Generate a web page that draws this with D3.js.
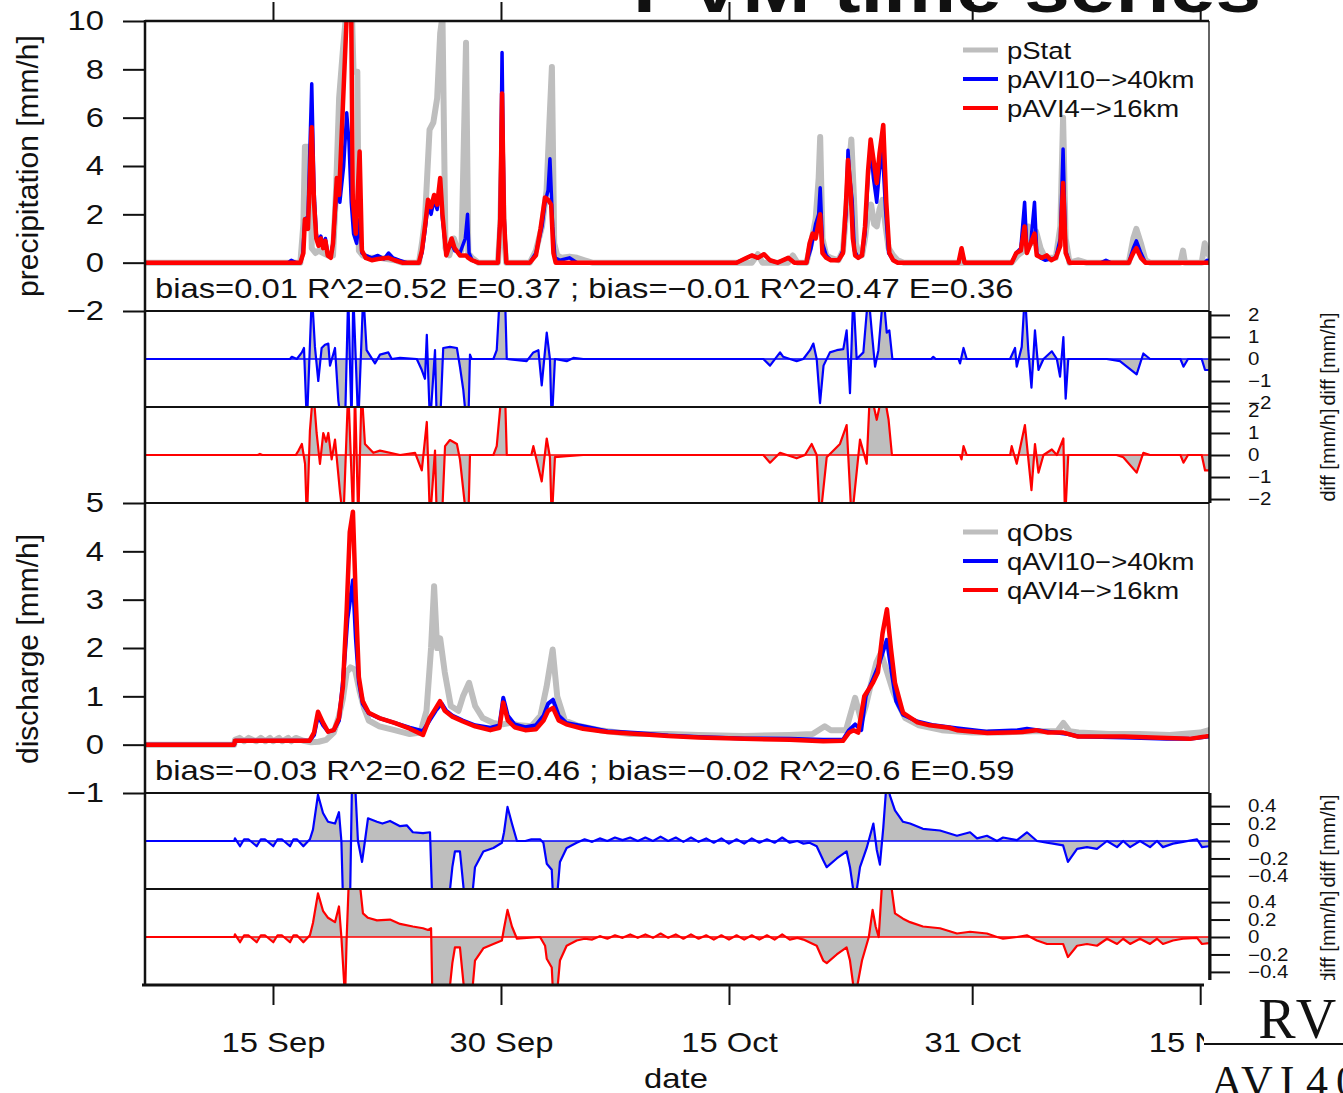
<!DOCTYPE html>
<html>
<head>
<meta charset="utf-8">
<script src="https://cdn.jsdelivr.net/npm/d3@7"></script>
<style>
  body { margin: 0; background: #fff; }
  svg { display: block; }
  text { fill: #111; }
</style>
</head>
<body>
<div id="chart-area"></div>
<script>

// ---- data: time is in days since 1 Sep (fractional), values in mm/h ----

const dateTicks = ["2011-09-15", "2011-09-30", "2011-10-15", "2011-10-31", "2011-11-15"];
const dayRange = [5.58, 75.58];

const pTicks = [-2, 0, 2, 4, 6, 8, 10];
const qTicks = [-1, 0, 1, 2, 3, 4, 5];
const pDiffTicks = [-2, -1, 0, 1, 2];
const qDiffTicks = [-0.4, -0.2, 0, 0.2, 0.4];

const pLegend = ["pStat", "pAVI10\u2212>40km", "pAVI4\u2212>16km"];
const qLegend = ["qObs", "qAVI10\u2212>40km", "qAVI4\u2212>16km"];
const pStats = "bias=0.01 R^2=0.52 E=0.37 ; bias=\u22120.01 R^2=0.47 E=0.36";
const qStats = "bias=\u22120.03 R^2=0.62 E=0.46 ; bias=\u22120.02 R^2=0.6 E=0.59";

const pStat = [[5.58,0],[15.8,0],[16.0,1.6],[16.1,4.8],[16.45,4.8],[16.55,0.6],[16.8,0.4],[17.0,0.5],[17.3,0.4],[17.6,0.3],[17.95,0.3],[18.15,3.0],[18.35,6.8],[18.6,8.8],[18.8,10.2],[19.2,10.2],[19.3,7.9],[19.55,7.9],[19.65,0.5],[19.9,0.3],[20.3,0.2],[21.0,0.2],[21.5,0.15],[22.0,0.1],[22.5,0],[23.6,0],[23.8,0.8],[24.0,1.8],[24.3,5.5],[24.55,5.8],[24.8,6.8],[25.0,9.5],[25.15,10.2],[25.35,0.6],[25.6,0.3],[25.9,1.0],[26.1,0.6],[26.4,0.5],[26.7,9.1],[26.85,0.4],[27.1,0.2],[27.5,0],[28.8,0],[28.95,1.5],[29.07,4.5],[29.2,1.0],[29.35,0],[30.9,0],[31.3,0.5],[31.7,1.5],[32.0,3.0],[32.2,6.0],[32.35,8.1],[32.5,0.8],[32.7,0.3],[33.0,0.2],[33.5,0.25],[34.0,0.2],[34.5,0.1],[35.0,0],[45.5,0],[45.9,0.35],[46.2,0],[47.9,0],[48.2,0.3],[48.5,0],[49.1,0],[49.4,0.8],[49.7,1.8],[49.9,3.5],[50.0,5.2],[50.15,1.0],[50.4,0.3],[50.7,0.2],[51.2,0.1],[51.5,0.5],[51.7,2.0],[51.9,4.0],[52.05,5.1],[52.2,3.0],[52.35,0.8],[52.55,0.3],[52.75,0.3],[52.95,1.0],[53.15,2.0],[53.35,2.4],[53.55,1.6],[53.72,1.5],[53.9,2.2],[54.1,2.6],[54.3,1.5],[54.5,0.6],[54.8,0.3],[55.1,0.1],[55.5,0],[62.6,0],[63.0,0.3],[63.4,0.5],[63.7,1.5],[63.9,0.8],[64.2,1.3],[64.5,0.6],[64.8,0.2],[65.5,0.2],[65.8,1.5],[65.98,6.0],[66.15,1.0],[66.4,0],[67.0,0.1],[67.5,0],[70.3,0],[70.6,1.0],[70.8,1.4],[71.1,0.8],[71.4,0.1],[71.7,0],[73.7,0],[73.87,0.5],[74.0,0],[75.1,0],[75.3,0.8],[75.58,0.3]];

const pAvi10 = [[5.58,0],[15.0,0],[15.2,0.1],[15.5,0],[15.8,0],[15.95,0.3],[16.1,1.8],[16.3,1.9],[16.55,7.4],[16.7,3.0],[16.85,1.2],[17.0,0.8],[17.15,1.1],[17.3,0.7],[17.45,1.0],[17.6,0.4],[17.8,0.3],[17.95,0.8],[18.2,3.0],[18.4,2.5],[18.65,4.0],[18.85,6.2],[19.0,5.0],[19.15,2.5],[19.3,1.2],[19.5,0.8],[19.7,1.8],[19.85,0.4],[20.1,0.3],[20.5,0.2],[20.9,0.3],[21.3,0.15],[21.6,0.4],[21.9,0.2],[22.3,0.1],[22.8,0],[23.6,0],[23.8,0.4],[24.0,1.3],[24.2,2.4],[24.4,2.0],[24.6,2.6],[24.8,2.2],[25.0,3.2],[25.15,1.8],[25.4,0.4],[25.75,0.8],[25.95,0.5],[26.3,0.4],[26.65,1.0],[26.8,2.0],[26.9,0.4],[27.1,0.1],[27.5,0],[28.8,0],[28.95,2.0],[29.07,8.7],[29.2,2.0],[29.35,0],[30.9,0],[31.3,0.4],[31.7,1.5],[31.9,2.5],[32.1,3.0],[32.22,4.3],[32.4,1.5],[32.55,0.2],[32.9,0.1],[33.5,0.2],[34.0,0],[44.5,0],[45.0,0.15],[45.5,0.3],[45.9,0.2],[46.3,0.35],[46.7,0.1],[47.2,0],[47.9,0.2],[48.3,0],[49.1,0],[49.4,0.6],[49.7,1.6],[49.9,2.0],[50.0,3.1],[50.15,0.8],[50.4,0.3],[50.7,0.1],[51.2,0.1],[51.5,0.5],[51.7,2.0],[51.83,4.65],[51.95,3.5],[52.1,2.6],[52.25,0.5],[52.5,0.2],[52.75,0.3],[52.95,1.2],[53.15,3.5],[53.32,4.8],[53.5,3.5],[53.72,2.5],[53.9,3.8],[54.1,4.6],[54.3,2.2],[54.5,0.4],[54.8,0.1],[55.1,0],[59.1,0],[59.3,0.5],[59.5,0],[62.6,0],[62.9,0.4],[63.2,0.6],[63.45,2.5],[63.6,0.5],[63.85,0.8],[64.1,2.5],[64.25,0.4],[64.5,0.2],[64.8,0.1],[65.5,0.2],[65.8,1.0],[65.98,4.7],[66.15,0.5],[66.4,0],[68.5,0],[68.8,0.1],[69.1,0],[70.3,0],[70.6,0.6],[70.8,0.9],[71.1,0.4],[71.4,0],[75.3,0],[75.45,0.1],[75.58,0.1]];

const pAvi4 = [[5.58,0],[15.8,0],[16.0,0.4],[16.1,1.8],[16.3,1.4],[16.55,5.6],[16.7,2.5],[16.85,1.0],[17.0,0.7],[17.15,1.0],[17.3,0.6],[17.45,0.9],[17.6,0.3],[17.8,0.2],[17.95,0.8],[18.2,3.5],[18.35,2.8],[18.6,6.5],[18.85,10.2],[19.15,10.2],[19.25,2.6],[19.45,1.2],[19.7,4.6],[19.85,0.5],[20.1,0.2],[20.5,0.1],[20.9,0.15],[21.6,0.2],[22.0,0.1],[22.5,0],[23.6,0],[23.8,0.5],[24.0,1.5],[24.2,2.6],[24.4,2.3],[24.6,2.8],[24.8,2.4],[25.0,3.5],[25.15,2.0],[25.4,0.3],[25.75,1.0],[25.95,0.6],[26.3,0.3],[26.7,0.3],[26.85,0.2],[27.1,0.1],[27.5,0],[28.8,0],[28.95,1.8],[29.07,7.0],[29.2,1.8],[29.35,0],[30.9,0],[31.3,0.3],[31.6,1.4],[31.9,2.7],[32.1,2.6],[32.3,2.4],[32.45,0.4],[32.6,0],[44.5,0],[45.0,0.15],[45.5,0.3],[45.9,0.2],[46.3,0.35],[46.7,0.1],[47.2,0],[47.9,0.2],[48.3,0],[49.1,0],[49.3,0.8],[49.5,1.2],[49.7,1.0],[49.85,1.5],[50.0,2.0],[50.15,0.4],[50.4,0.2],[50.7,0.1],[51.2,0.1],[51.5,0.4],[51.7,2.5],[51.83,4.25],[52.0,3.0],[52.15,1.0],[52.3,0.3],[52.5,0.2],[52.75,0.3],[52.95,1.5],[53.15,3.8],[53.32,5.1],[53.5,4.3],[53.72,3.3],[53.9,4.5],[54.15,5.7],[54.35,2.5],[54.55,0.4],[54.8,0.1],[55.1,0],[59.1,0],[59.3,0.6],[59.5,0],[62.6,0],[62.9,0.4],[63.2,0.5],[63.45,1.5],[63.6,0.4],[63.85,0.8],[64.1,1.2],[64.25,0.3],[64.6,0.2],[64.9,0.3],[65.2,0.1],[65.5,0.2],[65.8,0.7],[65.98,3.3],[66.15,0.4],[66.4,0],[70.3,0],[70.6,0.4],[70.8,0.6],[71.1,0.2],[71.4,0],[75.58,0]];

const pDiff10 = [[5.58,0],[15.12,0],[15.24,0.1],[15.57,0],[15.9,0.3],[16.04,0.5],[16.23,-3],[16.56,3],[16.76,0.55],[16.98,-1.0],[17.2,0.5],[17.42,0.65],[17.64,0.7],[17.75,-0.3],[18.08,0.5],[18.3,-1.9],[18.52,-3],[18.74,-3],[18.95,3],[19.17,-3],[19.28,3],[19.61,-3],[19.94,3],[20.16,0.4],[20.71,-0.2],[21.04,0.2],[21.59,0.3],[21.81,0],[22.36,0.05],[23.46,0],[23.79,-0.5],[24.0,-0.9],[24.12,1.1],[24.33,-3],[24.66,0.4],[24.78,-3],[24.99,-3],[25.2,0.5],[25.64,0.55],[26.1,0.5],[26.3,-0.35],[26.52,-1.4],[26.74,-3],[26.85,-3],[26.96,0.2],[27.07,0],[28.5,0],[28.72,0.4],[28.93,3],[29.26,3],[29.38,0],[30.69,-0.1],[31.13,0.3],[31.46,0.4],[31.68,-1.2],[32.01,1.2],[32.22,0],[32.34,-3],[32.55,0],[33.32,-0.1],[33.76,0.05],[34.41,0],[46.26,0],[46.7,-0.3],[47.36,0.3],[47.57,0.1],[48.45,-0.1],[48.89,0],[49.33,0.4],[49.55,0.7],[49.77,0],[49.99,-2.0],[50.22,-0.3],[50.64,0.3],[51.09,0.4],[51.52,0.45],[51.74,1.3],[51.96,-1.55],[52.18,3],[52.4,0],[52.84,0.3],[53.17,3],[53.4,1.2],[53.61,-0.35],[53.83,0.4],[54.15,3],[54.38,1.2],[54.55,1.3],[54.75,0],[57.3,0],[57.44,0.1],[57.6,0],[59.1,0],[59.2,-0.2],[59.43,0.5],[59.64,0],[62.49,0],[62.82,0.5],[62.93,-0.35],[63.26,0.55],[63.47,3],[63.69,0.4],[63.9,-1.3],[64.13,1.3],[64.36,-0.5],[64.69,0],[65.24,0.35],[65.57,0],[65.78,-0.8],[66.0,1.0],[66.15,-1.8],[66.32,0],[68.85,0],[69.72,-0.1],[70.82,-0.7],[71.26,0.25],[71.7,0],[73.7,0],[73.9,-0.35],[74.2,0],[75.1,0],[75.32,-0.5],[75.58,-0.5]];

const pDiff4 = [[5.58,0],[13.0,0],[13.14,0.05],[13.3,0],[15.5,0],[15.68,0.2],[15.9,0.5],[16.11,-0.4],[16.23,-3],[16.43,1.1],[16.65,3],[16.87,1.0],[17.09,-0.4],[17.31,1.0],[17.5,0.6],[17.64,1.0],[17.86,-0.2],[18.08,0.7],[18.41,-1.7],[18.63,-3],[18.95,3],[19.28,-3],[19.39,3],[19.61,-3],[19.83,3],[20.05,0.5],[20.6,0.1],[21.04,0.2],[22.36,0],[23.35,0.1],[23.79,-0.7],[24.12,1.5],[24.33,-3],[24.66,0.2],[24.78,-3],[25.11,-3],[25.32,0.4],[25.64,0.68],[26.1,0.5],[26.3,-0.2],[26.52,-1.6],[26.74,-3],[26.85,-3],[26.96,0],[28.5,0],[28.72,0.4],[29.06,3],[29.26,3],[29.38,0],[31.0,0],[31.13,0.4],[31.68,-1.2],[32.01,0.75],[32.22,-0.1],[32.34,-3],[32.55,-0.1],[33.32,-0.05],[34.41,0],[46.26,0],[46.7,-0.35],[47.36,0.1],[48.45,-0.15],[49.0,0],[49.44,0.5],[49.77,0],[49.99,-3],[50.43,-0.1],[51.3,0.5],[51.74,1.36],[52.07,-3],[52.62,0.7],[53.06,-0.4],[53.28,3],[53.72,1.6],[54.15,3],[54.5,1.6],[54.72,0],[59.2,0],[59.3,-0.2],[59.43,0.4],[59.64,0],[62.5,0],[62.6,0.4],[62.93,-0.4],[63.47,1.36],[63.9,-1.6],[64.13,0.5],[64.36,-0.8],[64.69,0],[65.24,0.25],[65.57,0],[66.0,0.75],[66.11,-3],[66.32,0],[69.5,0],[69.94,-0.1],[70.82,-0.8],[71.26,0.1],[71.7,0],[73.7,0],[73.9,-0.35],[74.2,0],[75.1,0],[75.32,-0.7],[75.58,-0.7]];

const qObs = [[5.58,0],[11.45,0],[11.5,0.1],[11.8,0.14],[12.1,0.07],[12.4,0.14],[12.9,0.07],[13.2,0.14],[13.5,0.07],[13.8,0.14],[14.0,0.07],[14.4,0.14],[14.6,0.07],[15.0,0.14],[15.2,0.07],[15.5,0.14],[16.0,0.08],[16.5,0.05],[17.0,0.06],[17.5,0.1],[18.0,0.25],[18.35,0.6],[18.6,0.95],[18.85,1.5],[19.1,1.6],[19.4,1.55],[19.7,1.1],[20.0,0.75],[20.3,0.5],[21.0,0.38],[22.0,0.3],[23.0,0.22],[23.7,0.25],[24.1,0.7],[24.4,2.0],[24.6,3.28],[24.8,2.0],[25.0,2.2],[25.3,1.5],[25.7,0.8],[26.2,0.7],[26.5,1.0],[26.9,1.28],[27.3,0.8],[27.8,0.55],[28.5,0.45],[29.1,0.42],[29.6,0.45],[30.2,0.4],[31.0,0.38],[31.6,0.6],[32.0,1.2],[32.4,1.97],[32.7,1.0],[33.2,0.5],[34.0,0.4],[35.5,0.3],[37.5,0.22],[40,0.22],[42,0.2],[45,0.18],[48,0.2],[49.5,0.22],[50.3,0.38],[50.7,0.3],[51.7,0.3],[52.3,0.97],[52.7,0.5],[53.0,0.8],[53.3,1.2],[53.7,1.7],[54.0,1.9],[54.4,1.5],[54.8,1.1],[55.2,0.8],[55.6,0.55],[56.5,0.4],[58,0.3],[60,0.25],[62,0.25],[64,0.28],[65.6,0.28],[66.0,0.45],[66.4,0.28],[67,0.25],[69,0.22],[71,0.22],[73,0.2],[75.0,0.25],[75.58,0.3]];

const qAvi10 = [[5.58,0],[11.45,0],[11.5,0.08],[16.4,0.08],[16.7,0.2],[16.96,0.6],[17.3,0.4],[17.62,0.27],[18.0,0.3],[18.34,0.5],[18.6,1.3],[18.9,2.6],[19.26,3.4],[19.45,2.2],[19.65,1.3],[19.9,0.85],[20.3,0.65],[21.0,0.55],[22.0,0.45],[23.0,0.35],[23.87,0.28],[24.3,0.5],[24.7,0.7],[25.1,0.85],[25.4,0.7],[25.8,0.6],[26.5,0.5],[27.3,0.4],[28.3,0.35],[28.9,0.4],[29.15,0.97],[29.45,0.6],[29.9,0.42],[30.6,0.36],[31.3,0.4],[31.8,0.6],[32.1,0.85],[32.42,0.93],[32.8,0.6],[33.3,0.45],[34.4,0.38],[36,0.28],[38,0.24],[40,0.19],[42,0.16],[45,0.13],[48,0.12],[50.2,0.1],[51.5,0.1],[51.9,0.3],[52.3,0.42],[52.7,0.3],[53.0,1.0],[53.47,1.35],[53.8,1.6],[54.38,2.17],[54.7,1.5],[55.0,0.9],[55.45,0.62],[56.4,0.48],[57.5,0.4],[59,0.34],[61,0.27],[63,0.3],[63.6,0.33],[64.3,0.3],[65,0.27],[66.3,0.22],[67,0.17],[70,0.15],[72.8,0.12],[74.3,0.12],[75.58,0.17]];

const qAvi4 = [[5.58,0],[11.45,0],[11.5,0.08],[16.4,0.08],[16.7,0.25],[16.96,0.68],[17.3,0.45],[17.62,0.27],[18.0,0.3],[18.34,0.55],[18.6,1.2],[18.85,2.8],[19.05,4.4],[19.26,4.82],[19.45,3.0],[19.65,1.4],[19.9,0.9],[20.3,0.66],[21.0,0.55],[22.0,0.45],[23.0,0.33],[23.87,0.2],[24.3,0.55],[24.7,0.75],[24.99,0.9],[25.3,0.7],[25.8,0.58],[26.5,0.48],[27.3,0.38],[28.3,0.3],[28.9,0.35],[29.15,0.87],[29.45,0.5],[29.9,0.36],[30.6,0.3],[31.3,0.32],[31.8,0.5],[32.1,0.7],[32.42,0.76],[32.8,0.5],[33.3,0.42],[34.4,0.33],[36,0.26],[38,0.22],[40,0.18],[42,0.15],[45,0.12],[48,0.1],[50.2,0.07],[51.5,0.08],[51.9,0.25],[52.2,0.3],[52.5,0.25],[52.9,1.0],[53.47,1.28],[53.8,1.5],[54.1,2.3],[54.39,2.8],[54.65,2.0],[54.92,1.28],[55.45,0.66],[56.4,0.46],[57.2,0.4],[58.5,0.35],[59,0.3],[61,0.24],[63.3,0.26],[64.2,0.3],[65,0.25],[66,0.25],[66.9,0.17],[70,0.17],[72.8,0.14],[74.3,0.12],[75.58,0.18]];

const qDiff10 = [[5.58,0],[11.45,0],[11.5,0.03],[11.83,-0.06],[12.1,0.02],[12.38,0.02],[12.93,-0.06],[13.2,0.02],[13.47,0.02],[14.02,-0.06],[14.3,0.02],[14.58,0.02],[15.12,-0.06],[15.35,0.02],[15.57,0.02],[16.0,-0.06],[16.43,0.02],[16.63,0.13],[16.96,0.53],[17.29,0.32],[17.62,0.22],[18.08,0.2],[18.34,0.33],[18.5,0],[18.61,-0.7],[19.07,-0.7],[19.2,0.7],[19.39,0.7],[19.59,0],[19.86,-0.24],[20.05,0],[20.25,0.26],[20.84,0.22],[21.2,0.2],[21.7,0.23],[22.36,0.17],[22.8,0.18],[23.2,0.1],[23.87,0.09],[24.33,0.1],[24.5,-0.8],[25.0,-1.2],[25.5,-0.8],[25.8,-0.3],[25.97,-0.12],[26.3,-0.12],[26.63,-0.7],[27.07,-0.7],[27.29,-0.3],[27.84,-0.12],[28.5,-0.08],[29.06,-0.02],[29.2,0.1],[29.43,0.39],[29.72,0.2],[30.05,0],[30.6,0],[31.0,0.02],[31.57,0.02],[31.79,-0.02],[32.01,-0.26],[32.34,-0.33],[32.44,-0.7],[32.66,-0.7],[32.88,-0.24],[33.32,-0.08],[33.98,-0.02],[34.5,0.02],[35.0,-0.01],[35.5,0.03],[36.0,0],[36.5,0.04],[37.0,0.01],[37.5,0.04],[38.0,0],[38.5,0.04],[39.0,0],[39.5,0.05],[40.0,0],[40.5,0.04],[41.0,-0.01],[41.5,0.04],[42.0,-0.01],[42.5,0.03],[43.0,-0.02],[43.5,0.03],[44.0,-0.03],[44.5,0.02],[45.0,-0.03],[45.5,0.03],[46.0,-0.02],[46.5,0.02],[47.0,-0.02],[47.5,0.04],[48.0,-0.02],[48.5,0],[48.9,-0.03],[49.3,-0.02],[49.77,-0.06],[50.2,-0.22],[50.43,-0.3],[51.09,-0.2],[51.74,-0.12],[51.96,-0.3],[52.29,-0.7],[52.62,-0.3],[53.06,-0.08],[53.5,0.2],[53.72,-0.1],[53.93,-0.27],[54.15,0.15],[54.38,0.7],[54.59,0.52],[54.92,0.35],[55.45,0.22],[55.91,0.2],[56.76,0.14],[57.88,0.12],[59.0,0.06],[59.86,0.1],[60.32,0.03],[60.97,0.06],[61.63,0],[62.03,0.04],[62.95,0.01],[63.6,0.1],[64.26,0],[64.92,-0.02],[65.32,-0.03],[65.98,-0.05],[66.3,-0.24],[66.9,-0.09],[67.55,-0.07],[68.21,-0.09],[68.87,0],[69.53,-0.07],[69.93,0],[70.39,-0.07],[71.04,0],[71.7,-0.07],[72.16,0],[72.55,-0.07],[73.21,-0.03],[73.87,-0.01],[74.79,0.02],[75.12,-0.07],[75.58,-0.06]];

const qDiff4 = [[5.58,0],[11.45,0],[11.5,0.03],[11.83,-0.06],[12.1,0.02],[12.38,0.02],[12.93,-0.06],[13.2,0.02],[13.47,0.02],[14.02,-0.06],[14.3,0.02],[14.58,0.02],[15.12,-0.06],[15.35,0.02],[15.57,0.02],[16.0,-0.06],[16.43,0.02],[16.63,0.16],[16.96,0.5],[17.29,0.3],[17.62,0.22],[18.08,0.17],[18.34,0.35],[18.5,0],[18.74,-0.7],[18.85,0],[19.0,0.7],[19.66,0.7],[19.92,0.27],[20.25,0.22],[20.84,0.19],[21.7,0.2],[22.36,0.15],[23.2,0.12],[23.87,0.1],[24.2,0.08],[24.4,0.1],[24.5,-0.8],[25.0,-1.2],[25.5,-0.8],[25.8,-0.3],[25.97,-0.12],[26.3,-0.12],[26.63,-0.7],[27.07,-0.7],[27.29,-0.27],[27.84,-0.13],[28.5,-0.08],[29.06,-0.04],[29.2,0.1],[29.43,0.31],[29.72,0.12],[30.05,-0.02],[31.57,0],[31.9,-0.1],[32.01,-0.25],[32.34,-0.35],[32.44,-0.7],[32.66,-0.7],[32.88,-0.27],[33.32,-0.1],[33.98,-0.04],[34.5,-0.02],[35.0,-0.03],[35.5,0.01],[36.0,-0.02],[36.5,0.02],[37.0,-0.01],[37.5,0.03],[38.0,-0.01],[38.5,0.03],[39.0,-0.01],[39.5,0.04],[40.0,-0.01],[40.5,0.03],[41.0,-0.02],[41.5,0.03],[42.0,-0.02],[42.5,0.02],[43.0,-0.03],[43.5,0.02],[44.0,-0.03],[44.5,0.02],[45.0,-0.03],[45.5,0.02],[46.0,-0.03],[46.5,0.02],[47.0,-0.03],[47.5,0.03],[48.0,-0.03],[48.5,-0.01],[48.9,-0.03],[49.77,-0.1],[50.2,-0.27],[50.43,-0.3],[51.09,-0.2],[51.74,-0.12],[51.96,-0.27],[52.29,-0.7],[52.75,-0.27],[53.2,0],[53.45,0.31],[53.65,0.12],[53.85,0],[54.1,0.7],[54.59,0.7],[54.92,0.27],[55.45,0.21],[55.91,0.17],[56.76,0.12],[57.88,0.1],[59.0,0.04],[59.86,0.06],[60.97,0.04],[61.63,0],[62.03,-0.02],[62.95,0],[63.6,0.02],[64.26,-0.04],[64.92,-0.08],[65.98,-0.08],[66.3,-0.23],[66.9,-0.1],[67.55,-0.08],[68.21,-0.1],[68.87,-0.02],[69.53,-0.08],[69.93,-0.02],[70.39,-0.08],[71.04,-0.02],[71.7,-0.08],[72.16,-0.02],[72.55,-0.08],[73.21,-0.04],[73.87,-0.02],[74.79,-0.01],[75.12,-0.08],[75.58,-0.07]];


// ---- drawing ----

const W = 1343, H = 1093;
const SX = 1.17;          // text in the original is a bit wider than tall
const ink = "#111";
const grey = "#bebebe", blue = "#0000ff", red = "#ff0000";
const sans = '"Liberation Sans", Arial, Helvetica, sans-serif';
const serif = '"Liberation Serif", "DejaVu Serif", serif';
const num = d3.format("~g");

const t0 = Date.UTC(2011, 8, 1);
const toDate = d => new Date(t0 + d * 864e5);
const parse = d3.utcParse("%Y-%m-%d");

const left = 145, right = 1209;

let svg = d3.select("#chart-area").append("svg")
	.attr("width", W)
	.attr("height", H)
	.style("font-family", sans);

let x = d3.scaleUtc()
	.domain(dayRange.map(toDate))
	.range([left, right]);

// panels: main precip, two diffs, main discharge, two diffs
let yP   = d3.scaleLinear().domain([-2, 10]).range([311, 21]);
let yPd1 = d3.scaleLinear().domain([-2.18, 2.18]).range([407, 311]);
let yPd2 = d3.scaleLinear().domain([-2.18, 2.18]).range([503, 407]);
let yQ   = d3.scaleLinear().domain([-1, 5]).range([793, 503]);
let yQd1 = d3.scaleLinear().domain([-0.55, 0.55]).range([889, 793]);
let yQd2 = d3.scaleLinear().domain([-0.55, 0.55]).range([985, 889]);

let defs = svg.append("defs");
function clipFor(id, y) {
	let r = y.range();
	defs.append("clipPath").attr("id", id)
		.append("rect")
		.attr("x", left).attr("y", r[1])
		.attr("width", right - left).attr("height", r[0] - r[1]);
	return "url(#" + id + ")";
}

// stretch text horizontally around its anchor
function stretch(sel) {
	sel.each(function() {
		let t = d3.select(this);
		let xx = +t.attr("x") || 0;
		t.attr("x", xx / SX).attr("transform", "scale(" + SX + ",1)");
	});
}

function label(px, py, str, size, anchor) {
	return svg.append("text")
		.attr("transform", "translate(" + px + "," + py + ") scale(" + SX + ",1)")
		.attr("font-size", size)
		.attr("text-anchor", anchor || "start")
		.text(str);
}

function drawMain(id, y, series) {
	let g = svg.append("g").attr("clip-path", clipFor(id, y));
	series.forEach(s => {
		g.append("path")
			.datum(s.data)
			.attr("d", d3.line().x(d => x(toDate(d[0]))).y(d => y(d[1])))
			.attr("fill", "none")
			.attr("stroke", s.color)
			.attr("stroke-width", s.width)
			.attr("stroke-linejoin", "round")
			.attr("stroke-linecap", "round");
	});
}

function drawDiff(id, y, data, color) {
	let g = svg.append("g").attr("clip-path", clipFor(id, y));
	g.append("path")
		.datum(data)
		.attr("d", d3.area().x(d => x(toDate(d[0]))).y0(y(0)).y1(d => y(d[1])))
		.attr("fill", grey);
	g.append("line")
		.attr("x1", left).attr("x2", right)
		.attr("y1", y(0)).attr("y2", y(0))
		.attr("stroke", color).attr("stroke-width", 1.5);
	g.append("path")
		.datum(data)
		.attr("d", d3.line().x(d => x(toDate(d[0]))).y(d => y(d[1])))
		.attr("fill", "none")
		.attr("stroke", color)
		.attr("stroke-width", 2.2)
		.attr("stroke-linejoin", "round");
}

drawMain("cp", yP, [
	{data: pStat, color: grey, width: 6},
	{data: pAvi10, color: blue, width: 3.5},
	{data: pAvi4, color: red, width: 4.5}
]);
drawDiff("cpd1", yPd1, pDiff10, blue);
drawDiff("cpd2", yPd2, pDiff4, red);

drawMain("cq", yQ, [
	{data: qObs, color: grey, width: 6},
	{data: qAvi10, color: blue, width: 4},
	{data: qAvi4, color: red, width: 4.5}
]);
drawDiff("cqd1", yQd1, qDiff10, blue);
drawDiff("cqd2", yQd2, qDiff4, red);

function styleAxis(g, size) {
	g.select(".domain").remove();
	g.selectAll("line").attr("stroke", ink).attr("stroke-width", 2);
	g.selectAll("text").attr("font-size", size).attr("font-family", null).attr("fill", ink).call(stretch);
}

// left axes
function leftAxis(y, ticks) {
	svg.append("g")
		.attr("transform", "translate(" + left + ",0)")
		.call(d3.axisLeft(y).tickValues(ticks).tickFormat(num).tickSize(22).tickPadding(19).tickSizeOuter(0))
		.call(styleAxis, 28);
}
leftAxis(yP, pTicks);
leftAxis(yQ, qTicks);

// right axes on the diff panels
function rightAxis(y, ticks) {
	svg.append("g")
		.attr("transform", "translate(" + (right + 1) + ",0)")
		.call(d3.axisRight(y).tickValues(ticks).tickFormat(num).tickSize(20).tickPadding(18).tickSizeOuter(0))
		.call(styleAxis, 17.5);
}
rightAxis(yPd1, pDiffTicks);
rightAxis(yPd2, pDiffTicks);
rightAxis(yQd1, qDiffTicks);
rightAxis(yQd2, qDiffTicks);

// date axes
let tickDates = dateTicks.map(parse);
svg.append("g")
	.attr("transform", "translate(0,985)")
	.call(d3.axisBottom(x).tickValues(tickDates).tickFormat(d3.utcFormat("%-d %b")).tickSize(20).tickPadding(27).tickSizeOuter(0))
	.call(styleAxis, 28);

svg.append("g")
	.attr("transform", "translate(0,21)")
	.call(d3.axisTop(x).tickValues(tickDates).tickFormat("").tickSize(19).tickSizeOuter(0))
	.call(styleAxis, 28);

// frames
function hline(y, w, x1) {
	svg.append("line").attr("x1", x1 || left).attr("x2", right).attr("y1", y).attr("y2", y)
		.attr("stroke", ink).attr("stroke-width", w);
}
function vline(xx, y1, y2, w) {
	svg.append("line").attr("x1", xx).attr("x2", xx).attr("y1", y1).attr("y2", y2)
		.attr("stroke", ink).attr("stroke-width", w);
}
hline(21, 2.5);
[311, 407, 503, 793, 889].forEach(y => hline(y, 1.8));
hline(985, 3, 142);
vline(left, 20, 986, 2.5);
vline(right, 21, 985, 1.3);
vline(right + 1, 311, 503, 3);
vline(right + 1, 793, 985, 3);

// legends
function legend(items, colors, widths, y0) {
	items.forEach((name, i) => {
		let yy = y0 + i * 29;
		svg.append("line").attr("x1", 963).attr("x2", 998).attr("y1", yy).attr("y2", yy)
			.attr("stroke", colors[i]).attr("stroke-width", widths[i]);
		label(1007, yy + 8.5, name, 23.5);
	});
}
legend(pLegend, [grey, blue, red], [5, 4, 4], 50);
legend(qLegend, [grey, blue, red], [5, 4, 4], 532);

// statistics
label(155, 298, pStats, 28);
label(155, 780, qStats, 28);

// axis titles
svg.append("text").attr("transform", "translate(38,166) rotate(-90)")
	.attr("font-size", 30).attr("text-anchor", "middle").text("precipitation [mm/h]");
svg.append("text").attr("transform", "translate(38,649) rotate(-90)")
	.attr("font-size", 30).attr("text-anchor", "middle").text("discharge [mm/h]");
[yPd1, yPd2, yQd1, yQd2].forEach(y => {
	svg.append("text").attr("transform", "translate(1335," + y(0) + ") rotate(-90)")
		.attr("font-size", 20).attr("text-anchor", "middle").text("diff [mm/h]");
});
label(676, 1088, "date", 28, "middle");

// title, cropped by the top of the picture
label(633, 12, "PVM time series", 70).attr("font-weight", "bold");

// overlapping slide fragment in the lower right corner (typewriter-like, glyphs on a fixed pitch)
svg.append("rect").attr("x", 1204).attr("y", 980).attr("width", W - 1204).attr("height", H - 980).attr("fill", "#fff");
svg.append("line").attr("x1", 1204).attr("x2", W).attr("y1", 1044).attr("y2", 1044)
	.attr("stroke", ink).attr("stroke-width", 2);
svg.append("text").attr("x", "1277 1316").attr("y", 1038)
	.attr("text-anchor", "middle")
	.style("font-family", serif).attr("font-size", 56).text("RV");
svg.append("text").attr("x", "1227 1257 1287 1317 1347").attr("y", 1096)
	.attr("text-anchor", "middle")
	.style("font-family", serif).attr("font-size", 44).text("AVI40");

</script>
</body>
</html>
